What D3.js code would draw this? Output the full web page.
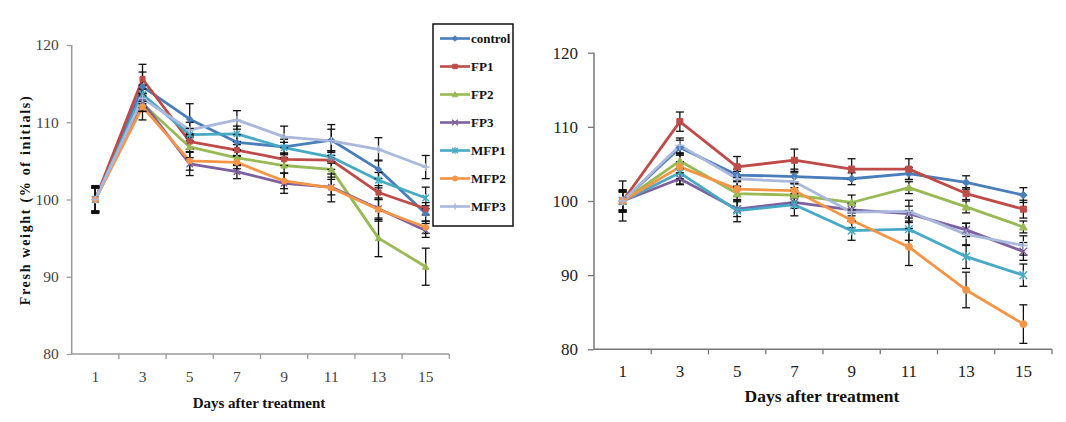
<!DOCTYPE html>
<html><head><meta charset="utf-8">
<script src="https://cdn.jsdelivr.net/npm/d3@7"></script>
<style>
html,body{margin:0;padding:0;background:#fff;}
svg{display:block;font-family:"Liberation Serif","Times New Roman",serif;}
svg text{font-family:"Liberation Serif","Times New Roman",serif !important;}
</style></head>
<body><svg id="c" width="1066" height="422"></svg>
<script>
const days = [1,3,5,7,9,11,13,15];
const seriesNames = ["control","FP1","FP2","FP3","MFP1","MFP2","MFP3"];
const yTicks = [80,90,100,110,120];

// Left chart values (% of initial fresh weight)
const leftControl = [100,114.6,110.4,107.4,106.8,107.7,103.9,98.2];
const leftFP1     = [100,115.6,107.5,106.4,105.2,105.1,100.9,98.8];
const leftFP2     = [100,112.4,106.8,105.4,104.4,103.9,95.0,91.3];
const leftFP3     = [100,112.6,104.6,103.6,102.1,101.6,98.8,96.0];
const leftMFP1    = [100,113.6,108.4,108.5,106.7,105.5,102.5,100.2];
const leftMFP2    = [100,112.0,105.0,104.8,102.4,101.5,98.7,96.4];
const leftMFP3    = [100,113.1,109.0,110.3,108.1,107.6,106.5,104.2];
// Left chart error (±)
const leftErrControl = [1.8,1.9,2.0,1.0,1.0,2.0,1.2,1.0];
const leftErrFP1     = [1.5,1.9,1.0,0.7,0.8,1.2,0.9,0.8];
const leftErrFP2     = [1.6,1.0,1.4,1.0,1.0,1.0,2.4,2.4];
const leftErrFP3     = [1.7,1.2,1.5,0.9,1.3,1.0,1.2,0.9];
const leftErrMFP1    = [1.5,1.2,0.8,1.0,0.7,0.8,1.0,1.4];
const leftErrMFP2    = [1.6,1.7,1.2,0.8,1.0,1.8,1.5,0.8];
const leftErrMFP3    = [1.5,1.2,1.0,1.2,1.4,1.5,1.5,1.5];

// Right chart values
const rightControl = [100,107.2,103.5,103.3,103.0,103.7,102.5,100.8];
const rightFP1     = [100,110.7,104.6,105.5,104.3,104.3,101.0,98.9];
const rightFP2     = [100,105.4,101.0,100.8,99.8,101.8,99.2,96.5];
const rightFP3     = [100,103.0,98.9,99.8,98.8,98.3,96.1,93.2];
const rightMFP1    = [100,103.8,98.7,99.5,96.0,96.2,92.5,90.0];
const rightMFP2    = [100,104.6,101.6,101.4,97.4,93.8,88.0,83.4];
const rightMFP3    = [100,107.5,103.0,102.6,98.5,98.6,95.5,94.0];
// Right chart error (±)
const rightErrControl = [1.2,1.0,0.8,1.0,0.8,0.8,0.9,1.0];
const rightErrFP1     = [1.5,1.3,1.4,1.5,1.4,1.4,0.8,1.2];
const rightErrFP2     = [1.2,1.0,0.9,1.0,1.0,0.8,0.8,0.8];
const rightErrFP3     = [1.4,0.8,1.0,0.8,0.8,1.0,0.9,1.2];
const rightErrMFP1    = [1.3,1.5,1.5,1.5,1.3,1.5,1.6,1.5];
const rightErrMFP2    = [1.5,1.6,1.0,1.0,1.0,2.5,2.4,2.6];
const rightErrMFP3    = [2.7,1.0,1.0,1.2,1.2,1.5,1.5,1.3];

const colors = ["#4A7EBB","#BE4B48","#98B954","#7D60A0","#46AAC5","#F69546","#A9B8DC"];
const markers = ["diamond","square","triangle","x","star","circle","plus"];

const leftSeries = [leftControl,leftFP1,leftFP2,leftFP3,leftMFP1,leftMFP2,leftMFP3];
const leftErr = [leftErrControl,leftErrFP1,leftErrFP2,leftErrFP3,leftErrMFP1,leftErrMFP2,leftErrMFP3];
const rightSeries = [rightControl,rightFP1,rightFP2,rightFP3,rightMFP1,rightMFP2,rightMFP3];
const rightErr = [rightErrControl,rightErrFP1,rightErrFP2,rightErrFP3,rightErrMFP1,rightErrMFP2,rightErrMFP3];

const svg = d3.select("#c");

function drawMarker(g, type, x, y, color, s) {
  const p = g.append("path").attr("transform", `translate(${x},${y})`);
  let d = "";
  if (type === "diamond") d = `M0,${-s}L${s},0L0,${s}L${-s},0Z`;
  else if (type === "square") d = `M${-s*0.8},${-s*0.8}h${s*1.6}v${s*1.6}h${-s*1.6}Z`;
  else if (type === "triangle") d = `M0,${-s}L${s},${s*0.8}L${-s},${s*0.8}Z`;
  else if (type === "circle") d = d3.symbol(d3.symbolCircle, s*s*2.6)();
  if (d) { p.attr("d", d).attr("fill", color).attr("stroke", color).attr("stroke-width", 1); return; }
  if (type === "x") d = `M${-s},${-s}L${s},${s}M${-s},${s}L${s},${-s}`;
  else if (type === "star") d = `M${-s},${-s}L${s},${s}M${-s},${s}L${s},${-s}M0,${-s*1.2}L0,${s*1.2}`;
  else if (type === "plus") d = `M${-s*1.2},0L${s*1.2},0M0,${-s*1.2}L0,${s*1.2}`;
  p.attr("d", d).attr("fill", "none").attr("stroke", color).attr("stroke-width", 1.4);
}

function chart(cfg) {
  const x = d3.scaleBand().domain(days).range([cfg.x0, cfg.x1]).padding(0);
  const y = d3.scaleLinear().domain([80,120]).range([cfg.yBottom, cfg.yTop]);
  const g = svg.append("g");

  // y axis
  const ya = g.append("g").attr("transform", `translate(${cfg.x0},0)`)
    .call(d3.axisLeft(y).tickValues(yTicks).tickSize(cfg.tickLen).tickPadding(cfg.yPad).tickFormat(d3.format("d")));
  ya.attr("font-family", null);
  ya.select(".domain").attr("stroke", cfg.axisColor).attr("stroke-width", 1.5)
    .attr("d", `M0,${y(80)}V${y(120)}`);
  ya.selectAll(".tick line").attr("stroke", cfg.axisColor).attr("stroke-width", 1.3);
  ya.selectAll(".tick text").attr("fill", cfg.textColor).style("font-size", cfg.tickFont + "px");

  // x axis
  const xa = g.append("g").attr("transform", `translate(0,${y(80)})`)
    .call(d3.axisBottom(x).tickSize(0).tickPadding(cfg.xPad));
  xa.attr("font-family", null);
  xa.select(".domain").attr("stroke", cfg.axisColor).attr("stroke-width", 1.5)
    .attr("d", `M${cfg.x0},0H${cfg.x1}`);
  xa.selectAll(".tick text").attr("fill", cfg.textColor).style("font-size", cfg.tickFont + "px");
  // category boundary ticks
  const bounds = days.map(d => x(d)).concat([x(days[days.length-1]) + x.bandwidth()]).slice(1);
  xa.selectAll(".bt").data(bounds).enter().append("line")
    .attr("x1", d => d).attr("x2", d => d).attr("y1", 0).attr("y2", 5)
    .attr("stroke", cfg.axisColor).attr("stroke-width", 1.3);

  const cx = d => x(d) + x.bandwidth()/2;
  const line = d3.line().x((v,i) => cx(days[i])).y(v => y(v));

  cfg.series.forEach((vals, si) => {
    g.append("path").attr("d", line(vals)).attr("fill", "none")
      .attr("stroke", colors[si]).attr("stroke-width", 2.8).attr("stroke-linejoin", "round");
  });
  cfg.series.forEach((vals, si) => {
    const eg = g.append("g").attr("stroke", "#111").attr("stroke-width", 1.3);
    vals.forEach((v, i) => {
      const e = cfg.errs[si][i];
      const px = cx(days[i]);
      eg.append("line").attr("x1", px).attr("x2", px).attr("y1", y(v - e)).attr("y2", y(v + e));
      eg.append("line").attr("x1", px - 4).attr("x2", px + 4).attr("y1", y(v - e)).attr("y2", y(v - e));
      eg.append("line").attr("x1", px - 4).attr("x2", px + 4).attr("y1", y(v + e)).attr("y2", y(v + e));
    });
  });
  cfg.series.forEach((vals, si) => {
    vals.forEach((v, i) => drawMarker(g, markers[si], cx(days[i]), y(v), colors[si], cfg.mk));
  });

  // x title
  g.append("text").attr("x", cfg.xTitleX).attr("y", cfg.xTitleY).attr("text-anchor", "middle")
    .attr("font-weight", "bold").attr("font-size", cfg.xTitleFont).attr("fill", "#111")
    .text("Days after treatment");
  return {x, y};
}

chart({x0:71.7, x1:449.3, yTop:45, yBottom:354, series:leftSeries, errs:leftErr,
  axisColor:"#9a9a9a", textColor:"#444", tickFont:15.5, tickLen:5, yPad:8, xPad:17, mk:3.2,
  xTitleX:259, xTitleY:408, xTitleFont:15});

chart({x0:594, x1:1052, yTop:52.7, yBottom:349.3, series:rightSeries, errs:rightErr,
  axisColor:"#777", textColor:"#222", tickFont:17, tickLen:6, yPad:10, xPad:16, mk:3.8,
  xTitleX:822, xTitleY:402, xTitleFont:17.5});

// y title (left chart)
svg.append("text").attr("transform", "translate(30,200) rotate(-90)")
  .attr("text-anchor", "middle").attr("font-weight", "bold").attr("font-size", 14)
  .attr("letter-spacing", 1.7).attr("fill", "#111")
  .text("Fresh weight (% of initials)");

// Legend
const lg = svg.append("g");
lg.append("rect").attr("x", 433).attr("y", 24).attr("width", 80).attr("height", 202)
  .attr("fill", "#fff").attr("stroke", "#111").attr("stroke-width", 1.5);
seriesNames.forEach((n, i) => {
  const ly = 38.5 + i * 28;
  lg.append("line").attr("x1", 440).attr("x2", 470).attr("y1", ly).attr("y2", ly)
    .attr("stroke", colors[i]).attr("stroke-width", 2.6);
  drawMarker(lg, markers[i], 455, ly, colors[i], 2.8);
  lg.append("text").attr("x", 471).attr("y", ly + 4.5).attr("font-size", 13)
    .attr("font-weight", "bold").attr("fill", "#111").text(n);
});
</script></body></html>
